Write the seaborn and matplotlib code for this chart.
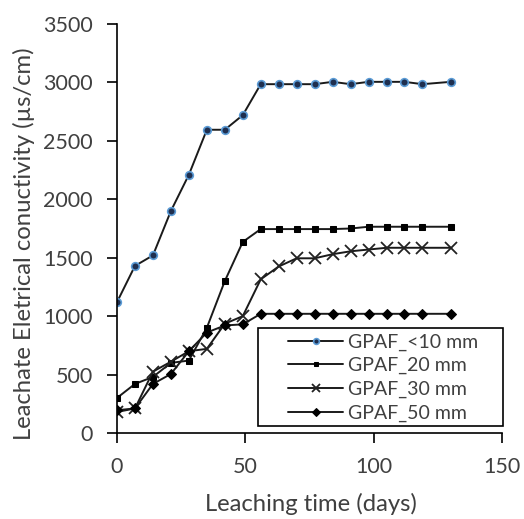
import matplotlib
matplotlib.use("Agg")
import matplotlib.pyplot as plt
from matplotlib.patches import Rectangle
import seaborn as sns
import pandas as pd

days = [0, 7, 14, 21, 28, 35, 42, 49, 56, 63, 70, 77, 84, 91, 98, 105, 112, 119, 130]
gpaf_10 = [1120, 1430, 1520, 1900, 2210, 2595, 2595, 2720, 2985, 2985, 2985, 2985, 3005, 2985, 3005, 3005, 3005, 2985, 3005]
gpaf_20 = [300, 420, 480, 600, 620, 900, 1300, 1635, 1745, 1745, 1745, 1745, 1745, 1750, 1765, 1765, 1765, 1765, 1765]
gpaf_30 = [180, 210, 525, 610, 700, 720, 935, 1000, 1315, 1425, 1495, 1495, 1530, 1555, 1570, 1585, 1585, 1585, 1585]
gpaf_50 = [195, 210, 420, 505, 700, 860, 920, 930, 1020, 1020, 1020, 1020, 1020, 1020, 1020, 1020, 1020, 1020, 1020]
labels = ["GPAF_<10 mm", "GPAF_20 mm", "GPAF_30 mm", "GPAF_50 mm"]
x_ticks = [0, 50, 100, 150]
y_ticks = [0, 500, 1000, 1500, 2000, 2500, 3000, 3500]

series = [gpaf_10, gpaf_20, gpaf_30, gpaf_50]
df = pd.concat([pd.DataFrame({"day": days, "ec": s, "series": lab}) for s, lab in zip(series, labels)])

sns.set_style("ticks")
plt.rcParams['font.family'] = ['Lato', 'DejaVu Sans']
FS = 15.5
LFS = 17.2
TXT = "#404040"

fig = plt.figure(figsize=(5.24, 5.19), dpi=100)
ax = fig.add_axes([117/524, 1 - 433/519, (502 - 117)/524, (433 - 24)/519])

styles = {
    "GPAF_<10 mm": dict(marker="o", markersize=5.5, markerfacecolor="#1f2f4f", markeredgecolor="#5b9bd5", markeredgewidth=1.2),
    "GPAF_20 mm": dict(marker="s", markersize=4.5, markerfacecolor="black", markeredgecolor="black"),
    "GPAF_30 mm": dict(marker="x", markersize=8, markeredgecolor="#222222", markeredgewidth=1.3),
    "GPAF_50 mm": dict(marker="D", markersize=5, markerfacecolor="black", markeredgecolor="black"),
}
for lab in labels:
    sub = df[df["series"] == lab]
    sns.lineplot(data=sub, x="day", y="ec", ax=ax, color="#1a1a1a", linewidth=1.4,
                 label=lab, **styles[lab])

ax.set_xlim(0, 150)
ax.set_ylim(0, 3500)
ax.set_xticks(x_ticks)
ax.set_yticks(y_ticks)
for s in ["top", "right"]:
    ax.spines[s].set_visible(False)
for s in ["left", "bottom"]:
    ax.spines[s].set_color("black")
    ax.spines[s].set_linewidth(1.2)
ax.tick_params(axis="both", direction="out", length=7, width=1.2, colors="black",
               labelcolor=TXT, labelsize=FS, pad=10.5)
ax.set_xlabel("Leaching time (days)", fontsize=LFS, color=TXT)
ax.set_ylabel("Leachate Eletrical conuctivity (\u00b5s/cm)", fontsize=LFS, color=TXT)
ax.xaxis.set_label_coords(0.505, -0.174)
ax.yaxis.set_label_coords(-0.2416, 0.463)
ax.xaxis.label.set_va("center")
ax.yaxis.label.set_va("center")

leg = ax.legend(loc="center", bbox_to_anchor=(0.692, 0.1357), fontsize=14, frameon=False,
                borderpad=0.0, labelspacing=0.33, handlelength=2.83, handletextpad=0.26,
                borderaxespad=0.0, markerscale=0.75)
for t in leg.get_texts():
    t.set_color(TXT)

fig.patches.append(Rectangle((258/524, 1 - 426/519), 245/524, 98/519, transform=fig.transFigure,
                             fill=False, edgecolor="black", linewidth=1.2, zorder=5))

fig.savefig("out.png", dpi=100)
